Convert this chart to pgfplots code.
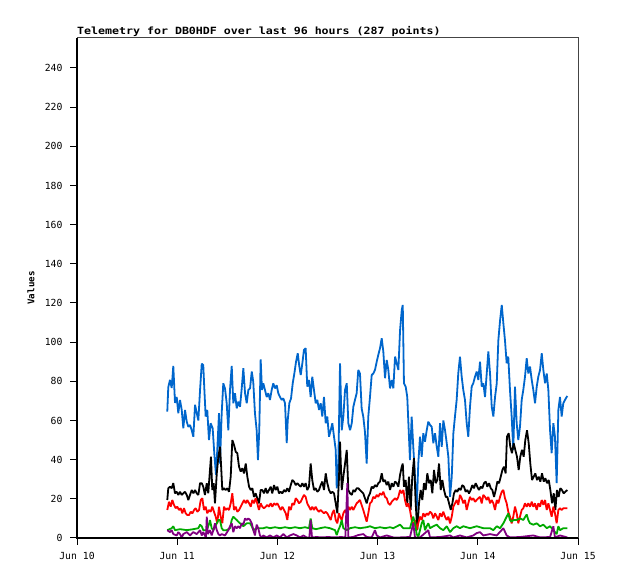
\documentclass[border=0pt]{standalone}
\usepackage{fontspec}
\usepackage{pgfplots}
\pgfplotsset{compat=1.18}
\newfontfamily\tickfont{DejaVu Sans Mono}
\newfontfamily\titlefont[FakeStretch=1.165]{DejaVu Sans Mono}
\newfontfamily\labelfont{DejaVu Sans Mono}
\definecolor{cblue}{RGB}{0,102,204}
\definecolor{cgreen}{RGB}{0,170,0}
\definecolor{cpurple}{RGB}{128,0,128}
\definecolor{cframe}{RGB}{68,68,68}
\begin{document}
\begin{tikzpicture}[x=1bp,y=1bp]
\useasboundingbox (0,0) rectangle (618,579);
\begin{axis}[
  at={(77bp,41bp)}, anchor=south west,
  scale only axis, width=501bp, height=500bp,
  xmin=10, xmax=15, ymin=0, ymax=255.3,
  axis line style={draw=none},
  xtick={10,11,12,13,14,15},
  xticklabels={Jun 10,Jun 11,Jun 12,Jun 13,Jun 14,Jun 15},
  ytick={0,20,40,60,80,100,120,140,160,180,200,220,240},
  yticklabels={0,20,40,60,80,100,120,140,160,180,200,220,240},
  xtick pos=bottom, ytick pos=left,
  tick align=outside, major tick length=7bp,
  tick style={black, line width=1bp},
  ticklabel style={font=\tickfont\fontsize{9.8}{11}\selectfont, text=black},
  yticklabel style={xshift=-4bp},
  xticklabel style={yshift=-4bp},
  clip=false,
  every axis plot/.append style={line width=1.8bp, line join=bevel, no markers},
]
\addplot[cblue] coordinates {
(10.901,64.5)(10.911,77)(10.928,80.7)(10.945,76.6)(10.961,87.8)(10.978,69)(10.995,72)(11.011,63.7)
(11.028,70.5)(11.045,65.4)(11.061,56)(11.078,65.4)(11.095,59.4)(11.111,56.8)(11.128,57.7)(11.145,55)
(11.161,51.7)(11.178,68)(11.195,63.7)(11.211,60)(11.228,75.6)(11.245,89)(11.260,88.3)(11.270,77)
(11.284,62)(11.300,65.4)(11.317,50)(11.334,58.6)(11.354,56)(11.370,43.3)(11.387,32.2)(11.400,45)
(11.417,63.7)(11.427,38)(11.444,63.7)(11.460,79)(11.477,76.4)(11.494,68.8)(11.510,55)(11.527,75.6)
(11.544,87.8)(11.560,68.8)(11.577,73.9)(11.594,66.2)(11.610,69.6)(11.627,67)(11.644,76.4)(11.660,86.7)
(11.677,73.9)(11.694,68.8)(11.710,75.6)(11.727,76.4)(11.744,85)(11.759,79.8)(11.776,63.7)(11.793,55)
(11.806,39.8)(11.819,55)(11.833,91.2)(11.846,75.6)(11.859,79)(11.876,75.6)(11.893,72)(11.909,73.9)
(11.926,70.5)(11.943,75.6)(11.959,79)(11.976,76.4)(11.993,78)(12.009,73.9)(12.026,72)(12.043,70.5)
(12.059,71.3)(12.076,68.8)(12.093,48.4)(12.103,60)(12.119,68.8)(12.136,71.3)(12.153,79)(12.169,84)
(12.186,90)(12.203,94.3)(12.219,87.5)(12.233,83.2)(12.249,89.2)(12.265,96)(12.282,96.9)(12.298,77.3)
(12.315,80.7)(12.332,72)(12.348,82.4)(12.365,75.6)(12.382,68.8)(12.398,70.5)(12.415,65.4)(12.432,68.8)
(12.448,62)(12.465,72)(12.482,58.6)(12.498,62)(12.515,51.7)(12.532,55)(12.548,58.6)(12.565,51.7)
(12.582,45)(12.592,25.4)(12.608,38)(12.625,89.2)(12.642,55)(12.658,62)(12.675,75.6)(12.692,79)
(12.708,58.6)(12.725,55)(12.742,58.6)(12.758,67)(12.774,70.5)(12.791,73.9)(12.807,85.8)(12.824,84)
(12.841,66)(12.857,62)(12.874,54)(12.891,38)(12.907,62)(12.924,72)(12.941,83.2)(12.957,84)
(12.974,85.8)(12.991,90)(13.007,93.5)(13.024,96.9)(13.041,102)(13.057,95.2)(13.074,81.6)(13.091,90.9)
(13.107,85.8)(13.124,76.4)(13.141,80.7)(13.157,76.4)(13.174,92.6)(13.191,89.2)(13.207,85.8)(13.224,106)
(13.241,116.4)(13.251,119)(13.263,79)(13.280,77.3)(13.296,72)(13.313,51.7)(13.323,39.8)(13.340,62)
(13.356,46.6)(13.373,31.3)(13.390,14.3)(13.406,38)(13.423,51.7)(13.440,41.5)(13.456,53.5)(13.473,49.2)
(13.490,55)(13.506,59.4)(13.523,57.7)(13.540,56.8)(13.556,48.4)(13.573,53.5)(13.590,46.6)(13.606,41.5)
(13.623,58.6)(13.640,46.6)(13.656,60)(13.673,55)(13.690,48.4)(13.706,41.5)(13.723,21)(13.740,31.3)
(13.756,53.5)(13.772,62)(13.789,70.5)(13.805,84)(13.822,92.6)(13.839,82.4)(13.855,75.6)(13.872,70.5)
(13.889,58.6)(13.905,51.7)(13.922,67)(13.939,77.3)(13.955,79)(13.972,82.4)(13.989,85)(14.005,80.7)
(14.022,90)(14.039,77.3)(14.055,79)(14.072,72)(14.089,84)(14.105,95.2)(14.122,84)(14.139,67)
(14.155,62)(14.172,72)(14.189,79)(14.205,101)(14.222,111)(14.239,119)(14.255,109.6)(14.271,101)
(14.288,89.2)(14.304,92.6)(14.321,75.6)(14.338,62)(14.354,45)(14.371,77.3)(14.388,58.6)(14.404,50)
(14.421,56.8)(14.438,70.5)(14.454,75.6)(14.471,82.4)(14.488,91.8)(14.504,84)(14.521,87.5)(14.538,80.7)
(14.554,75.6)(14.571,68.8)(14.588,77.3)(14.604,82.4)(14.621,85.8)(14.638,94.3)(14.654,85.8)(14.671,79)
(14.688,84)(14.704,75.6)(14.721,55)(14.737,43.3)(14.754,58.6)(14.770,51.7)(14.787,28)(14.804,65.4)
(14.820,72)(14.837,62)(14.853,68.8)(14.870,70.5)(14.887,72)(14.893,72.5)
};
\addplot[black] coordinates {
(10.901,19.4)(10.911,25.4)(10.928,26.2)(10.945,25.4)(10.961,28)(10.978,22.8)(10.995,23.6)(11.011,22)
(11.028,23.6)(11.045,22)(11.061,22.8)(11.078,23.6)(11.095,22)(11.111,19.4)(11.128,22)(11.145,24.5)
(11.161,22.8)(11.178,24.5)(11.195,22.8)(11.211,22)(11.228,28)(11.245,28)(11.260,26.2)(11.277,22)
(11.295,28)(11.310,22.8)(11.327,34.7)(11.337,41.5)(11.350,24.5)(11.364,28)(11.377,17.7)(11.395,33)
(11.411,41.5)(11.427,46.6)(11.437,38)(11.450,24.5)(11.467,25.4)(11.484,24.5)(11.500,25.4)(11.517,23.6)
(11.534,31.3)(11.550,50)(11.567,47.5)(11.584,44)(11.600,43.3)(11.617,36.4)(11.634,33.9)(11.650,35.6)
(11.667,33)(11.684,38)(11.700,31.3)(11.717,26.2)(11.734,24.5)(11.750,25.4)(11.766,21)(11.783,22.8)
(11.799,20.3)(11.816,17.7)(11.833,24.5)(11.849,24.5)(11.866,22.8)(11.883,25.4)(11.899,22.8)(11.916,24.5)
(11.933,26.2)(11.949,22.8)(11.966,27)(11.983,24.5)(11.999,26.2)(12.016,22.8)(12.033,23.6)(12.049,22.8)
(12.066,24.5)(12.083,23.6)(12.099,25.4)(12.116,23.6)(12.133,27)(12.149,29.6)(12.166,28.8)(12.183,27)
(12.199,28)(12.216,27)(12.233,26.2)(12.249,28)(12.265,26.2)(12.282,28)(12.298,24.5)(12.315,26.2)
(12.332,38)(12.348,29.6)(12.365,24.5)(12.382,25.4)(12.398,23.6)(12.415,24.5)(12.432,27)(12.448,28.8)
(12.465,24.5)(12.482,33)(12.498,28)(12.515,24.5)(12.532,22.8)(12.548,23.6)(12.565,22.8)(12.582,17.7)
(12.598,12.6)(12.615,31.3)(12.625,49.2)(12.642,24.5)(12.658,31.3)(12.675,38)(12.692,45)(12.708,24.5)
(12.725,22.8)(12.742,22)(12.758,24.5)(12.774,23.6)(12.791,25.4)(12.807,25.4)(12.824,24.5)(12.857,22.8)
(12.891,17.7)(12.907,21)(12.924,22.8)(12.941,26.2)(12.957,25.4)(12.974,27)(12.991,26.2)(13.007,28)
(13.024,28.8)(13.041,33)(13.057,28.8)(13.074,29.6)(13.091,27)(13.107,28.8)(13.124,24.5)(13.141,28)
(13.157,26.2)(13.174,28.8)(13.191,28)(13.207,26.2)(13.224,32.2)(13.241,36.4)(13.251,38)(13.263,26.2)
(13.280,29.6)(13.296,17.7)(13.313,31.3)(13.330,14.3)(13.346,31.3)(13.363,40.7)(13.380,17.7)(13.396,4)
(13.413,17.7)(13.430,24.5)(13.446,19.4)(13.463,28)(13.480,24.5)(13.496,33)(13.513,28)(13.530,29.6)
(13.546,22.8)(13.563,34.7)(13.580,28)(13.596,29.6)(13.613,38)(13.630,24.5)(13.646,29.6)(13.663,24.5)
(13.680,21)(13.696,21)(13.713,17.7)(13.730,14.3)(13.746,17.7)(13.762,22.8)(13.779,24.5)(13.795,23.6)
(13.812,25.4)(13.829,24.5)(13.845,27)(13.862,26.2)(13.879,23.6)(13.895,24.5)(13.912,22.8)(13.929,24.5)
(13.945,27)(13.962,25.4)(13.979,28)(13.995,26.2)(14.012,24.5)(14.029,26.2)(14.045,25.4)(14.062,28)
(14.079,28.8)(14.095,26.2)(14.112,28)(14.129,25.4)(14.145,24.5)(14.162,21)(14.179,24.5)(14.195,28.8)
(14.212,28)(14.229,31.3)(14.245,34.7)(14.261,36.4)(14.278,33)(14.291,51.7)(14.308,53.5)(14.324,46.6)
(14.341,43.3)(14.358,48.4)(14.374,45)(14.391,41.5)(14.408,34.7)(14.424,41.5)(14.441,45)(14.458,41.5)
(14.474,50)(14.491,55)(14.508,48.4)(14.524,38)(14.541,29.6)(14.558,31.3)(14.574,33)(14.591,29.6)
(14.608,31.3)(14.624,28.8)(14.641,33)(14.658,28.8)(14.674,30.5)(14.691,28)(14.708,29.6)(14.724,24.5)
(14.741,17.7)(14.758,22.8)(14.774,14.3)(14.790,24.5)(14.807,21)(14.823,25.4)(14.840,24.5)(14.857,22.8)
(14.874,23.6)(14.893,24.5)
};
\addplot[red] coordinates {
(10.901,14.3)(10.918,18.5)(10.935,16)(10.951,19.4)(10.968,16.9)(10.985,15.2)(11.001,16)(11.018,14.3)
(11.035,15.2)(11.051,12.6)(11.068,15.2)(11.085,12.6)(11.101,11.7)(11.118,11.7)(11.135,13.4)(11.151,12.6)
(11.168,14.3)(11.185,15.2)(11.201,13.4)(11.218,14.3)(11.235,19.4)(11.251,20.3)(11.267,14.3)(11.284,16)
(11.300,12.6)(11.317,14.3)(11.334,13.4)(11.350,16)(11.367,13.4)(11.384,10.9)(11.400,7.5)(11.417,16)
(11.434,10.9)(11.450,7.5)(11.467,16)(11.484,14.3)(11.500,15.2)(11.517,14.3)(11.534,17.7)(11.550,22.8)
(11.567,14.3)(11.584,16)(11.600,13.4)(11.617,14.3)(11.634,16)(11.650,17.7)(11.667,19.4)(11.684,17.7)
(11.700,19.4)(11.717,17.7)(11.734,16)(11.750,19.4)(11.766,17.7)(11.783,20.3)(11.799,17.7)(11.816,14.3)
(11.833,17.7)(11.849,16)(11.866,15.2)(11.883,16)(11.899,16.9)(11.916,16)(11.933,17.7)(11.949,16)
(11.966,17.7)(11.983,16.9)(11.999,17.7)(12.016,16)(12.033,14.3)(12.049,16)(12.066,14.3)(12.083,12.6)
(12.099,9.2)(12.116,16)(12.133,14.3)(12.149,17.7)(12.166,16.9)(12.183,20.3)(12.199,19.4)(12.216,17.7)
(12.233,18.5)(12.249,20.3)(12.265,22)(12.282,21)(12.298,17.7)(12.315,16)(12.332,14.3)(12.348,16)
(12.365,14.3)(12.382,16)(12.398,14.3)(12.415,13.4)(12.432,14.3)(12.448,13.4)(12.465,12.6)(12.482,13.4)
(12.498,12.6)(12.515,10.9)(12.532,9.2)(12.548,12.6)(12.565,14.3)(12.582,9.2)(12.598,7.5)(12.615,12.6)
(12.625,10.9)(12.642,9.2)(12.658,12.6)(12.675,14.3)(12.692,12.6)(12.708,16)(12.725,14.3)(12.742,16)
(12.758,14.3)(12.774,16)(12.791,17.7)(12.807,18.5)(12.824,19.4)(12.857,14.3)(12.891,8.3)(12.907,12.6)
(12.924,17.7)(12.941,18.5)(12.957,21)(12.974,20.3)(12.991,22)(13.007,21)(13.024,22.8)(13.041,22)
(13.057,23.6)(13.074,21)(13.091,20.3)(13.107,17.7)(13.124,16.9)(13.141,18.5)(13.157,19.4)(13.174,20.3)
(13.191,19.4)(13.207,21)(13.224,24.5)(13.241,22.8)(13.257,24.5)(13.273,19.4)(13.290,16)(13.306,17.7)
(13.323,14.3)(13.340,9.2)(13.356,5.8)(13.373,9.2)(13.390,4)(13.406,7.5)(13.423,10.9)(13.440,9.2)
(13.456,12.6)(13.473,10.9)(13.490,12.6)(13.506,11.7)(13.523,13.4)(13.540,12.6)(13.556,10)(13.573,12.6)
(13.590,10.9)(13.606,9.2)(13.623,12.6)(13.640,10.9)(13.656,13.4)(13.673,10.9)(13.690,9.2)(13.706,10.9)
(13.723,7.5)(13.740,10.9)(13.756,16)(13.772,17.7)(13.789,19.4)(13.805,16.9)(13.822,22)(13.839,20.3)
(13.855,17.7)(13.872,19.4)(13.889,14.3)(13.905,17.7)(13.922,21)(13.939,19.4)(13.955,20.3)(13.972,18.5)
(13.989,19.4)(14.005,20.3)(14.022,21)(14.039,17.7)(14.055,22)(14.072,21)(14.089,19.4)(14.105,21)
(14.122,17.7)(14.139,19.4)(14.155,17.7)(14.172,14.3)(14.189,19.4)(14.205,17.7)(14.222,21)(14.239,23.6)
(14.255,24.5)(14.271,20.3)(14.288,17.7)(14.304,13.4)(14.321,10.9)(14.338,7.5)(14.354,10.9)(14.371,16)
(14.388,12.6)(14.404,7.5)(14.421,10.9)(14.438,14.3)(14.454,15.2)(14.471,17.7)(14.488,16)(14.504,17.7)
(14.521,16)(14.538,18.5)(14.554,16)(14.571,17.7)(14.588,14.3)(14.604,17.7)(14.621,16)(14.638,19.4)
(14.654,16.9)(14.671,19.4)(14.688,14.3)(14.704,17.7)(14.721,14.3)(14.737,10.9)(14.754,16)(14.770,12.6)
(14.787,7.5)(14.804,14.3)(14.820,15.2)(14.837,14.3)(14.853,15.2)(14.870,15.2)(14.893,15.2)
};
\addplot[cgreen] coordinates {
(10.901,4)(10.945,5)(10.961,6)(10.978,4)(11.028,4.5)(11.095,4)(11.161,4.5)(11.211,5)
(11.228,6.8)(11.245,6)(11.260,4)(11.295,4)(11.320,7.5)(11.327,9.2)(11.344,5)(11.361,4)
(11.395,7.5)(11.411,9.2)(11.427,9.2)(11.444,5)(11.460,4)(11.494,4)(11.527,5)(11.544,9.2)
(11.560,10.9)(11.577,10)(11.594,9.2)(11.610,8.3)(11.627,7.5)(11.644,6.8)(11.660,6)(11.694,7.5)
(11.727,7.5)(11.744,6)(11.760,4)(11.793,5)(11.826,5)(11.859,5)(11.893,5.5)(11.926,5)
(11.976,5.5)(12.026,5)(12.076,5.5)(12.126,5)(12.176,5.5)(12.226,5)(12.275,5.5)(12.315,5)
(12.332,10)(12.348,5)(12.385,4.5)(12.425,5)(12.475,5.5)(12.525,5)(12.575,4)(12.592,1.5)
(12.608,4)(12.625,6)(12.642,9.2)(12.658,5)(12.692,4)(12.725,5)(12.774,5.5)(12.824,5)
(12.891,5.5)(12.924,6)(12.974,5)(13.024,5.5)(13.074,5)(13.124,5.5)(13.157,5)(13.224,6.8)
(13.257,5)(13.323,5)(13.356,10.9)(13.373,7.5)(13.390,2)(13.406,0.5)(13.423,4)(13.440,7.5)
(13.456,9.2)(13.473,4)(13.490,6)(13.506,7.5)(13.523,5)(13.556,6)(13.590,6.8)(13.623,5)
(13.656,4)(13.690,6)(13.723,3)(13.756,5)(13.789,6)(13.822,5)(13.855,6)(13.922,5)
(13.989,6)(14.055,5)(14.122,5)(14.155,4)(14.189,6)(14.222,5)(14.255,7.5)(14.288,10.9)
(14.304,12.5)(14.321,9.2)(14.338,8.3)(14.354,9.2)(14.388,9.2)(14.421,10)(14.454,9.2)(14.488,12)
(14.504,9.2)(14.521,7.5)(14.554,6.8)(14.588,7.5)(14.621,6)(14.654,6.8)(14.688,5)(14.721,6)
(14.754,4)(14.787,2)(14.804,6)(14.820,4)(14.853,5)(14.893,5)
};
\addplot[cpurple] coordinates {
(10.901,4)(10.928,3)(10.945,4)(10.961,2)(10.995,1.3)(11.011,3)(11.028,2)(11.045,0.3)
(11.061,2)(11.095,3)(11.128,1.3)(11.161,3)(11.195,2)(11.228,4)(11.245,1.3)(11.260,3)
(11.287,0.3)(11.295,10.9)(11.305,2)(11.327,4)(11.344,1.3)(11.361,4)(11.377,7.5)(11.395,4)
(11.411,2)(11.427,1.3)(11.444,2)(11.477,1.3)(11.510,4)(11.527,6)(11.544,7.5)(11.560,3)
(11.577,6)(11.594,5)(11.610,6)(11.627,5)(11.644,7.5)(11.660,6.8)(11.677,10)(11.694,9.2)
(11.710,10)(11.727,9.2)(11.744,7.5)(11.760,4)(11.776,1.3)(11.793,6.8)(11.809,5)(11.826,1.3)
(11.843,0.3)(11.859,1.3)(11.893,0.3)(11.926,1.3)(11.959,0.3)(11.993,1.3)(12.026,0.3)(12.059,2)
(12.093,0.3)(12.126,1.3)(12.159,2)(12.193,1.3)(12.226,0.3)(12.259,1.3)(12.292,0.3)(12.319,0.3)
(12.332,9.2)(12.345,0.3)(12.392,0.5)(12.445,0.3)(12.505,0.5)(12.575,0.3)(12.635,0.5)(12.678,0.3)
(12.698,28)(12.708,0.3)(12.754,0.5)(12.807,1.5)(12.857,2)(12.891,0.5)(12.941,0.3)(12.974,4)
(12.991,1.3)(13.024,0.3)(13.091,1.3)(13.157,0.3)(13.224,0.3)(13.323,0.5)(13.356,7.5)(13.373,0.3)
(13.423,0.3)(13.506,4)(13.523,0.3)(13.623,0.5)(13.723,1.3)(13.756,0.3)(13.822,1.3)(13.889,0.3)
(13.955,1.3)(13.989,2.5)(14.022,3)(14.055,1.3)(14.122,2)(14.189,1.3)(14.255,5)(14.288,1.3)
(14.321,0.3)(14.421,0.5)(14.554,1.3)(14.621,0.3)(14.721,0.5)(14.754,6)(14.770,0.3)(14.820,1.3)
(14.893,0.3)
};
\draw[cframe, line width=1bp] (rel axis cs:0,1) -- (rel axis cs:1,1) -- (rel axis cs:1,0);
\draw[black, line width=1.2bp] (rel axis cs:0,1) -- (rel axis cs:0,0) -- (rel axis cs:1,0);
\node[anchor=base west, inner sep=0pt, font=\titlefont\bfseries\fontsize{10}{12}\selectfont]
  at ([yshift=3bp]rel axis cs:0,1) {Telemetry for DB0HDF over last 96 hours (287 points)};
\end{axis}
\node[rotate=90, inner sep=0pt, font=\labelfont\bfseries\fontsize{9.2}{11}\selectfont] at (31,291) {Values};
\end{tikzpicture}
\end{document}
